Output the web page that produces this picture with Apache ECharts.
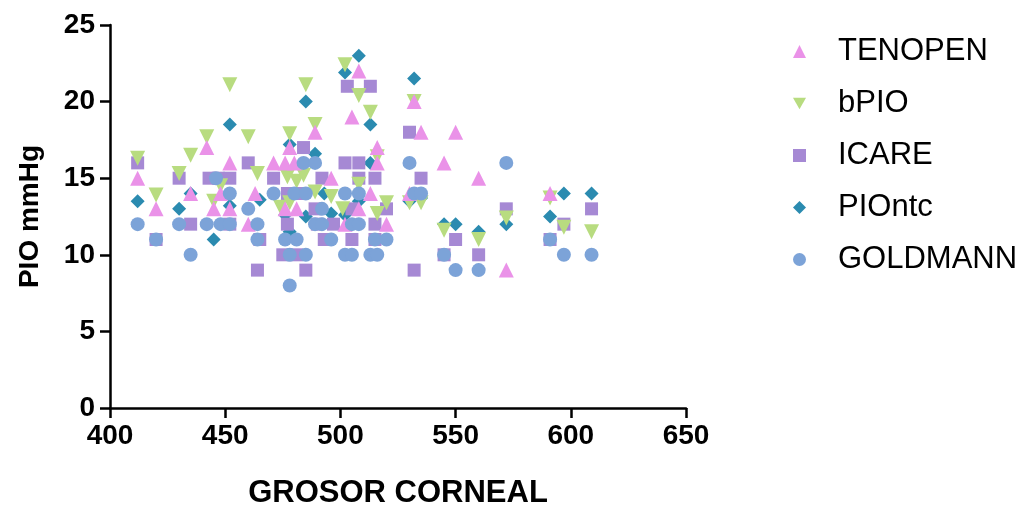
<!DOCTYPE html>
<html>
<head>
<meta charset="utf-8">
<script src="https://cdn.jsdelivr.net/npm/echarts@6/dist/echarts.min.js"></script>
<style>
  html, body { margin: 0; padding: 0; background: #fff; }
  #chart { width: 1020px; height: 506px; }
</style>
</head>
<body>
<div id="chart"></div>
<script>
// GROSOR CORNEAL vs PIO mmHg, una serie por tonómetro
const seriesNames = ["TENOPEN", "bPIO", "ICARE", "PIOntc", "GOLDMANN"];

const tenopen = [
  [412, 15], [420, 13], [435, 14], [442, 17], [445, 13], [448, 14], [452, 16], [452, 13],
  [460, 12], [463, 14], [471, 16], [476, 16], [478, 17], [480, 16], [476, 13], [481, 13],
  [489, 18], [496, 15], [502, 12], [505, 19], [508, 22], [508, 13], [513, 14], [516, 17],
  [516, 16], [520, 12], [530, 14], [532, 20], [535, 18], [545, 16], [550, 18], [560, 15],
  [572, 9], [591, 14]
];

const bpio = [
  [412, 16.3], [420, 13.9], [430, 15.3], [435, 16.5], [442, 17.7], [445, 13.5], [448, 14.5],
  [452, 21.1], [460, 17.7], [464, 15.3], [474, 13.1], [477, 15.1], [478, 17.9], [478, 13.4],
  [481, 14.8], [484, 15.2], [485, 21.1], [489, 18.5], [489, 14.1], [496, 13.8], [501, 13],
  [502, 22.4], [508, 20.4], [508, 14.6], [513, 19.3], [516, 16.4], [516, 12.7], [520, 13.4],
  [530, 13.4], [532, 20], [535, 13.4], [545, 11.6], [560, 11], [572, 12.4], [591, 13.7],
  [597, 11.8], [609, 11.5]
];

const icare = [
  [412, 16], [420, 11], [430, 15], [435, 12], [443, 15], [447, 15], [452, 15], [452, 12],
  [460, 16], [464, 9], [465, 11], [471, 15], [477, 14], [477, 12], [483, 14], [484, 17],
  [475, 10], [481, 10], [485, 9], [489, 13], [490, 12], [492, 15], [493, 11], [497, 12],
  [502, 16], [503, 21], [505, 13], [505, 11], [508, 16], [508, 15], [513, 21], [515, 15],
  [515, 12], [515, 11], [520, 13], [530, 18], [532, 9], [535, 15], [545, 10], [550, 11],
  [560, 10], [572, 13], [591, 11], [597, 12], [609, 13]
];

const piontc = [
  [412, 13.5], [430, 13], [435, 14], [445, 11], [452, 18.5], [452, 13.2], [465, 13.6],
  [476, 12.6], [478, 17.2], [478, 11.5], [485, 20], [485, 12.5], [489, 16.6], [493, 14],
  [496, 12.7], [502, 21.9], [502, 12.6], [508, 23], [508, 13.5], [513, 18.5], [513, 16],
  [530, 13.5], [532, 21.5], [535, 13.7], [545, 12], [550, 12], [560, 11.5], [572, 12],
  [591, 12.5], [597, 14], [609, 14]
];

const goldmann = [
  [412, 12], [420, 11], [430, 12], [435, 10], [442, 12], [446, 15], [448, 12], [452, 14],
  [452, 12], [460, 13], [464, 12], [464, 11], [471, 14], [478, 8], [476, 11], [481, 11],
  [478, 10], [480, 14], [484, 16], [485, 14], [485, 10], [489, 16], [489, 12], [492, 13],
  [492, 12], [496, 11], [502, 14], [502, 10], [505, 12], [505, 10], [508, 14], [508, 12],
  [513, 10], [516, 10], [515, 11], [520, 11], [530, 16], [532, 14], [535, 14], [545, 10],
  [550, 9], [560, 9], [572, 16], [591, 11], [597, 10], [609, 10]
];

const colors = ["#EA92E8", "#B8DC80", "#A689D4", "#2B8BB0", "#7CA3D8"];
const fontFamily = "'Liberation Sans', Arial, sans-serif";
const downTriangle = "path://M0,0 L10,0 L5,9 Z";

const chart = echarts.init(document.getElementById("chart"));

const axisCommon = {
  axisLine: { show: true, lineStyle: { color: "#000", width: 2.5 } },
  axisTick: { show: true, length: 10, lineStyle: { color: "#000", width: 2.5 } },
  axisLabel: { color: "#000", fontSize: 28, fontWeight: "bold", fontFamily },
  splitLine: { show: false }
};

const option = {
  animation: false,
  backgroundColor: "#fff",
  grid: { left: 110, right: 334, top: 25, bottom: 98, containLabel: false, outerBoundsMode: "none" },
  legend: {
    orient: "vertical",
    left: 788,
    top: 31,
    itemWidth: 13,
    itemHeight: 13,
    itemGap: 21,
    textStyle: { color: "#000", fontSize: 31, fontFamily, lineHeight: 30, padding: [0, 0, 0, 27] },
    data: [
      { name: "TENOPEN", icon: "triangle" },
      { name: "bPIO", icon: downTriangle },
      { name: "ICARE", icon: "rect" },
      { name: "PIOntc", icon: "diamond" },
      { name: "GOLDMANN", icon: "circle" }
    ]
  },
  xAxis: {
    ...axisCommon,
    type: "value",
    min: 400,
    max: 650,
    interval: 50,
    name: "GROSOR CORNEAL",
    nameLocation: "middle",
    nameGap: 70,
    nameTextStyle: { color: "#000", fontSize: 31, fontWeight: "bold", fontFamily },
    axisLabel: { ...axisCommon.axisLabel, margin: 14 }
  },
  yAxis: {
    ...axisCommon,
    type: "value",
    min: 0,
    max: 25,
    interval: 5,
    name: "PIO mmHg",
    nameLocation: "middle",
    nameGap: 66,
    nameTextStyle: { color: "#000", fontSize: 28, fontWeight: "bold", fontFamily },
    axisLabel: { ...axisCommon.axisLabel, margin: 15 }
  },
  series: [
    { name: seriesNames[0], type: "scatter", data: tenopen, symbol: "triangle", symbolSize: 15, z: 4,
      itemStyle: { color: colors[0], opacity: 1 } },
    { name: seriesNames[1], type: "scatter", data: bpio, symbol: "triangle", symbolRotate: 180, symbolSize: 15, z: 3,
      itemStyle: { color: colors[1], opacity: 1 } },
    { name: seriesNames[2], type: "scatter", data: icare, symbol: "rect", symbolSize: 13, z: 2,
      itemStyle: { color: colors[2], opacity: 1 } },
    { name: seriesNames[3], type: "scatter", data: piontc, symbol: "diamond", symbolSize: 14, z: 1,
      itemStyle: { color: colors[3], opacity: 1 } },
    { name: seriesNames[4], type: "scatter", data: goldmann, symbol: "circle", symbolSize: 14, z: 5,
      itemStyle: { color: colors[4], opacity: 1 } }
  ]
};

chart.setOption(option);
</script>
</body>
</html>
